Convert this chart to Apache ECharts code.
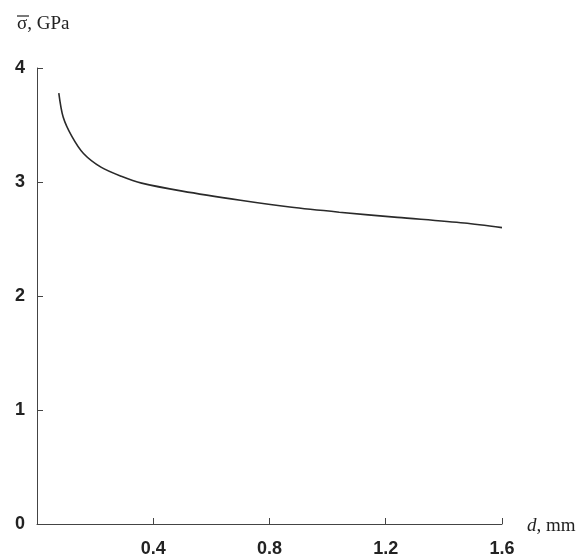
<!DOCTYPE html>
<html>
<head>
<meta charset="utf-8">
<script src="https://cdn.jsdelivr.net/npm/echarts@6/dist/echarts.min.js"></script>
<style>
  html, body { margin: 0; padding: 0; background: #fff; }
  #chart { width: 582px; height: 558px; }
</style>
</head>
<body>
<div id="chart"></div>
<script>
// diameter d, mm
const dValues = [0.075, 0.09, 0.12, 0.16, 0.22, 0.29, 0.36, 0.5, 0.7, 0.87, 1.04, 1.24, 1.47, 1.6];
// mean strength, GPa
const sigmaValues = [3.78, 3.57, 3.40, 3.25, 3.13, 3.05, 2.99, 2.92, 2.84, 2.78, 2.735, 2.69, 2.64, 2.60];
const xTicks = [0.4, 0.8, 1.2, 1.6];
const yTicks = [0, 1, 2, 3, 4];

const chart = echarts.init(document.getElementById('chart'));

const points = dValues.map((d, i) => [d, sigmaValues[i]]);

const serif = '"Liberation Serif", "DejaVu Serif", serif';
const sans = '"Liberation Sans", Arial, sans-serif';

const option = {
  animation: false,
  backgroundColor: '#fff',
  grid: { left: 37, right: 80, top: 68, bottom: 34 },
  graphic: [
    {
      type: 'text',
      left: 17,
      top: 15,
      style: {
        text: 'σ, GPa',
        font: '19px ' + serif,
        fill: '#222'
      }
    },
    {
      // overline of sigma
      type: 'line',
      shape: { x1: 17, y1: 16, x2: 29, y2: 16 },
      style: { stroke: '#222', lineWidth: 1.2 }
    }
  ],
  xAxis: {
    type: 'value',
    min: 0,
    max: 1.6,
    interval: 0.4,
    name: '{i|d}, mm',
    nameLocation: 'end',
    nameGap: 25,
    nameTextStyle: {
      fontFamily: serif,
      fontSize: 19,
      color: '#222',
      verticalAlign: 'middle',
      padding: [4, 0, 0, 0],
      rich: {
        i: { fontFamily: serif, fontStyle: 'italic', fontSize: 19, color: '#222' }
      }
    },
    axisLine: { lineStyle: { color: '#444', width: 1 } },
    axisTick: { inside: true, length: 6, lineStyle: { color: '#444' } },
    splitLine: { show: false },
    axisLabel: {
      margin: 16,
      fontFamily: sans,
      fontWeight: 'bold',
      fontSize: 18,
      color: '#222',
      formatter: v => (xTicks.includes(+v.toFixed(1)) ? v.toFixed(1) : '')
    }
  },
  yAxis: {
    type: 'value',
    min: 0,
    max: 4,
    interval: 1,
    axisLine: { show: true, lineStyle: { color: '#444', width: 1 } },
    axisTick: { show: true, inside: true, length: 6, lineStyle: { color: '#444' } },
    splitLine: { show: false },
    axisLabel: {
      margin: 12,
      padding: [8, 0, 0, 0],
      fontFamily: sans,
      fontWeight: 'bold',
      fontSize: 18,
      color: '#222',
      formatter: v => (yTicks.includes(v) ? String(v) : '')
    }
  },
  series: [
    {
      type: 'line',
      data: points,
      smooth: 0.3,
      showSymbol: false,
      lineStyle: { color: '#2a2a2a', width: 1.6 }
    }
  ]
};

chart.setOption(option);
</script>
</body>
</html>
